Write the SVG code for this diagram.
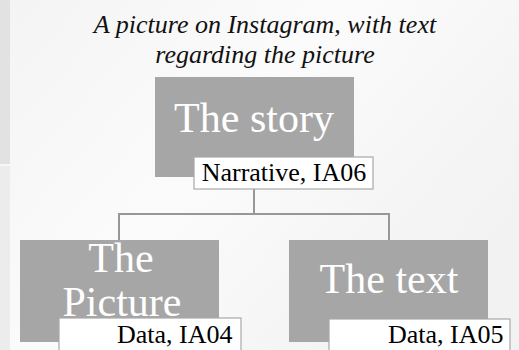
<svg xmlns="http://www.w3.org/2000/svg" width="519" height="350" viewBox="0 0 519 350">
<defs>
<linearGradient id="bg" x1="0" y1="0" x2="1" y2="0.6">
<stop offset="0" stop-color="#f4f4f4"/>
<stop offset="0.5" stop-color="#fbfbfb"/>
<stop offset="1" stop-color="#f2f2f2"/>
</linearGradient>
<style>
.box{fill:#a6a6a6;}
.lbl{fill:#ffffff;stroke:#a8a8a8;stroke-width:1.2;}
.big{font-size:42px;fill:#ffffff;text-anchor:middle;}
.small{font-size:26px;fill:#000000;}
.title{font-size:26px;font-style:italic;fill:#111111;text-anchor:middle;}
.conn{fill:none;stroke:#979797;stroke-width:2;}
</style>
</defs>
<rect x="0" y="0" width="519" height="350" fill="url(#bg)"/>
<rect x="0" y="0" width="10" height="164" fill="#e2e2e2"/>
<rect x="0" y="166" width="10" height="184" fill="#ececec"/>
<g font-family="Liberation Serif, Times New Roman, DejaVu Serif, serif">
<g id="title">
<text class="title" x="265" y="33">A picture on Instagram, with text</text>
<text class="title" x="265" y="63">regarding the picture</text>
</g>
<g id="connectors">
<path class="conn" d="M254 189 V214 M119 241 V214 H389 V241"/>
</g>
<g id="story">
<rect class="box" x="155" y="77" width="199" height="100"/>
<text class="big" x="254" y="132">The story</text>
<rect class="lbl" x="194" y="157" width="179" height="32"/>
<text class="small" x="284" y="181" text-anchor="middle">Narrative, IA06</text>
</g>
<g id="picture">
<rect class="box" x="20" y="240" width="199" height="102"/>
<text class="big" x="121" y="272">The</text>
<text class="big" x="122" y="316">Picture</text>
<rect class="lbl" x="59" y="318" width="182" height="40"/>
<text class="small" x="117" y="343">Data, IA04</text>
</g>
<g id="text">
<rect class="box" x="289" y="240" width="199" height="102"/>
<text class="big" x="389" y="293">The text</text>
<rect class="lbl" x="329" y="319" width="181" height="40"/>
<text class="small" x="388" y="343">Data, IA05</text>
</g>
</g>
</svg>
